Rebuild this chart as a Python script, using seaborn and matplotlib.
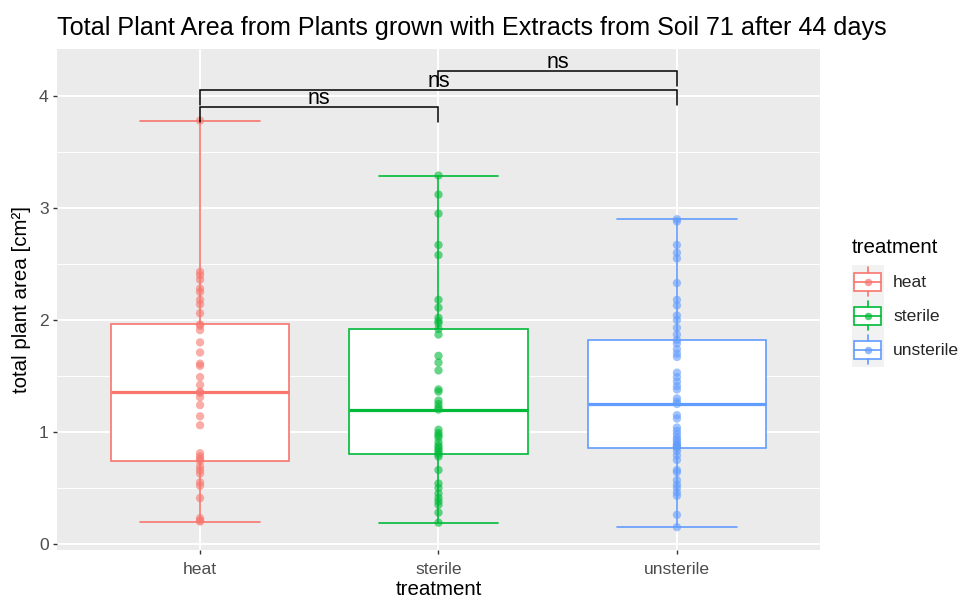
import numpy as np
import pandas as pd
import matplotlib
matplotlib.use("Agg")
import matplotlib.pyplot as plt
import seaborn as sns
from matplotlib.legend_handler import HandlerBase
from matplotlib.patches import Rectangle
from matplotlib.lines import Line2D

# ---- data -------------------------------------------------------------
treatments = ["heat", "sterile", "unsterile"]
colors = ["#F8766D", "#00BA38", "#619CFF"]

heat_area = [3.78, 2.43, 2.40, 2.36, 2.28, 2.25, 2.18, 2.14, 2.06, 1.96,
             1.95, 1.91, 1.80, 1.71, 1.61, 1.59, 1.49, 1.42, 1.36, 1.35,
             1.31, 1.24, 1.14, 1.06, 0.81, 0.78, 0.76, 0.74, 0.69, 0.66,
             0.63, 0.55, 0.52, 0.41, 0.23, 0.21, 0.20]
sterile_area = [3.29, 3.12, 2.95, 2.67, 2.58, 2.18, 2.11, 2.02, 1.99, 1.97,
                1.92, 1.87, 1.68, 1.62, 1.55, 1.38, 1.36, 1.28, 1.25, 1.22,
                1.20, 1.02, 0.99, 0.97, 0.95, 0.91, 0.88, 0.86, 0.84, 0.82,
                0.80, 0.78, 0.66, 0.54, 0.50, 0.45, 0.41, 0.38, 0.35, 0.28,
                0.19]
unsterile_area = [2.90, 2.88, 2.67, 2.60, 2.55, 2.33, 2.18, 2.13, 2.04, 2.00,
                  1.93, 1.87, 1.82, 1.79, 1.74, 1.70, 1.67, 1.53, 1.49, 1.45,
                  1.41, 1.38, 1.30, 1.27, 1.25, 1.15, 1.12, 1.04, 1.01, 0.98,
                  0.95, 0.93, 0.91, 0.89, 0.88, 0.87, 0.86, 0.83, 0.79, 0.75,
                  0.66, 0.64, 0.57, 0.53, 0.50, 0.46, 0.43, 0.26, 0.15]

# pairwise comparisons: (group a, group b, bracket height, label)
comparisons = [("heat", "sterile", 3.90, "ns"),
               ("heat", "unsterile", 4.05, "ns"),
               ("sterile", "unsterile", 4.22, "ns")]

title = "Total Plant Area from Plants grown with Extracts from Soil 71 after 44 days"

palette = dict(zip(treatments, colors))
df = pd.DataFrame({
    "treatment": (["heat"] * len(heat_area) + ["sterile"] * len(sterile_area)
                  + ["unsterile"] * len(unsterile_area)),
    "area": heat_area + sterile_area + unsterile_area,
})

# ---- style ------------------------------------------------------------
sns.set_style("darkgrid", {"axes.facecolor": "#EBEBEB", "grid.color": "white"})
plt.rcParams["font.family"] = ["Liberation Sans", "DejaVu Sans"]

W, H = 962, 601
fig = plt.figure(figsize=(W / 100, H / 100), dpi=100)
fig.patch.set_facecolor("white")
ax = fig.add_axes([57 / W, 1 - 550 / H, (820 - 57) / W, (550 - 49) / H])

# ---- boxes (one call per group so each gets its own line colour) -------
for t in treatments:
    sns.boxplot(data=df[df["treatment"] == t], x="treatment", y="area",
                order=treatments, color="white", linecolor=palette[t],
                saturation=1, width=0.75, whis=(0, 100), linewidth=1.2,
                capwidths=0.5, showfliers=False,
                medianprops={"linewidth": 2.3}, ax=ax, zorder=2)

# ---- points -----------------------------------------------------------
sns.stripplot(data=df, x="treatment", y="area", hue="treatment",
              order=treatments, hue_order=treatments, palette=palette,
              jitter=False, alpha=0.6, size=6.0, linewidth=0,
              legend=False, ax=ax, zorder=3)

# ---- significance brackets ---------------------------------------------
drop = 0.13
for a, b, h, lab in comparisons:
    xa, xb = treatments.index(a), treatments.index(b)
    ax.plot([xa, xa, xb, xb], [h - drop, h, h, h - drop], color="black",
            lw=1.1, zorder=4, solid_joinstyle="miter")
    ax.text((xa + xb) / 2, h + 0.03, lab, ha="center", va="baseline",
            fontsize=15.5, color="black", zorder=5)

# ---- axes -------------------------------------------------------------
ax.set_xlim(-0.6, 2.6)
ax.set_ylim(-0.054, 4.42)
ax.set_yticks([0, 1, 2, 3, 4])
ax.set_yticks([0.5, 1.5, 2.5, 3.5], minor=True)
ax.grid(which="major", color="white", linewidth=1.4)
ax.grid(which="minor", axis="y", color="white", linewidth=0.7)
ax.set_axisbelow(True)
for s in ax.spines.values():
    s.set_visible(False)
ax.tick_params(axis="both", which="major", length=3, width=1.0,
               color="#333333", labelcolor="#4D4D4D", labelsize=12.6, pad=3,
               bottom=True, left=True)
ax.tick_params(axis="x", which="major", pad=6)
ax.tick_params(axis="both", which="minor", length=0)
ax.set_xlabel("treatment", fontsize=14.8, color="black", labelpad=2)
ax.set_ylabel("total plant area [cm²]", fontsize=14.8, color="black", labelpad=6)

fig.text(57 / W, 1 - 28 / H, title, ha="left", va="center",
         fontsize=18.1, color="black")


# ---- legend with boxplot keys -------------------------------------------
class BoxKey(HandlerBase):
    def create_artists(self, legend, orig_handle, xdescent, ydescent,
                       width, height, fontsize, trans):
        c = orig_handle.get_color()
        x0, y0 = -xdescent, -ydescent
        bg = Rectangle((x0, y0), width, height, facecolor="#F2F2F2",
                       edgecolor="none", transform=trans)
        bx0, bx1 = x0 + 0.07 * width, x0 + 0.93 * width
        by0, by1 = y0 + 0.23 * height, y0 + 0.77 * height
        cx, cy = x0 + 0.5 * width, y0 + 0.5 * height
        box = Rectangle((bx0, by0), bx1 - bx0, by1 - by0, facecolor="white",
                        edgecolor=c, lw=1.2, transform=trans)
        w1 = Line2D([cx, cx], [y0 + 0.07 * height, by0], color=c, lw=1.2,
                    transform=trans)
        w2 = Line2D([cx, cx], [by1, y0 + 0.93 * height], color=c, lw=1.2,
                    transform=trans)
        med = Line2D([bx0, bx1], [cy, cy], color=c, lw=1.2, transform=trans)
        dot = Line2D([cx], [cy], marker="o", markersize=5.4, color=c,
                     alpha=0.7, markeredgewidth=0, linestyle="none",
                     transform=trans)
        return [bg, box, w1, w2, med, dot]


fig.text(852 / W, 1 - 247 / H, "treatment", ha="left", va="center",
         fontsize=14.8, color="black")
handles = [Line2D([], [], color=c) for c in colors]
leg = fig.legend(handles, treatments,
                 handler_map={Line2D: BoxKey()},
                 loc="upper left", bbox_to_anchor=(852 / W, 1 - 265 / H),
                 frameon=False, fontsize=12.6,
                 handlelength=1.8, handleheight=2.6, labelspacing=0.0,
                 handletextpad=0.55, borderpad=0, borderaxespad=0)

fig.savefig("out.png", dpi=100, facecolor="white")
